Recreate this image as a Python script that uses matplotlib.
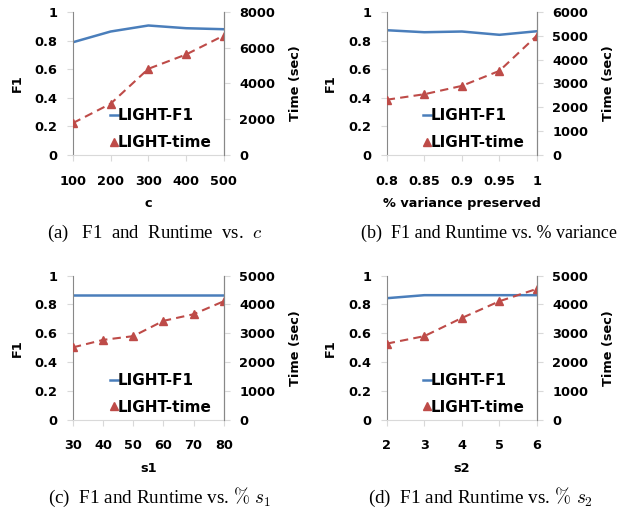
import matplotlib
matplotlib.use("Agg")
import matplotlib.pyplot as plt

plt.rcParams['font.family'] = 'DejaVu Sans'
plt.rcParams['font.weight'] = 'bold'
plt.rcParams['mathtext.fontset'] = 'cm'

# panel (a)
c_vals = [100, 200, 300, 400, 500]
c_f1 = [0.788, 0.863, 0.905, 0.886, 0.879]
c_time = [1790, 2870, 4820, 5620, 6680]

# panel (b)
var_vals = [0.8, 0.85, 0.9, 0.95, 1]
var_labels = ['0.8', '0.85', '0.9', '0.95', '1']
var_f1 = [0.872, 0.858, 0.863, 0.840, 0.865]
var_time = [2320, 2550, 2900, 3530, 5010]

# panel (c)
s1_vals = [30, 40, 50, 60, 70, 80]
s1_f1 = [0.866, 0.866, 0.866, 0.866, 0.866, 0.866]
s1_time = [2510, 2770, 2900, 3430, 3660, 4110]

# panel (d)
s2_vals = [2, 3, 4, 5, 6]
s2_f1 = [0.843, 0.864, 0.864, 0.864, 0.864]
s2_time = [2640, 2900, 3530, 4110, 4540]

blue = '#4A7EBB'
red = '#BE4B48'
fs = 9.3

fig = plt.figure(figsize=(6.34, 5.17), dpi=100)


def panel(rect, xlabels, f1, tm, tmax, tstep, xlabel, caption, cap_xy, cap_fs):
    ax = fig.add_axes(rect)
    xs = list(range(len(xlabels)))
    ax.plot(xs, f1, color=blue, lw=1.8)
    ax.set_ylim(0, 1)
    ax.set_yticks([0, 0.2, 0.4, 0.6, 0.8, 1])
    ax.set_yticklabels(['0', '0.2', '0.4', '0.6', '0.8', '1'])
    ax.set_xlim(0, len(xlabels) - 1)
    ax.set_xticks(xs)
    ax.set_xticklabels(xlabels)
    ax.spines['top'].set_visible(False)
    ax.spines['left'].set_color('#888888')
    ax.spines['right'].set_color('#888888')
    ax.spines['bottom'].set_color('#d9d9d9')
    ax.tick_params(axis='y', length=4, color='#d9d9d9', labelsize=fs, pad=7)
    ax.tick_params(axis='x', length=4, color='#d9d9d9', labelsize=fs, pad=10)
    ax.set_ylabel('F1', fontsize=fs, fontweight='bold', labelpad=8)
    ax.set_xlabel(xlabel, fontsize=fs, fontweight='bold', labelpad=7)

    ax2 = ax.twinx()
    ax2.plot(xs, tm, color=red, lw=1.5, ls=(0, (4, 2.5)), marker='^', ms=6)
    ax2.set_ylim(0, tmax)
    ax2.set_yticks(list(range(0, tmax + 1, tstep)))
    ax2.spines['top'].set_visible(False)
    ax2.spines['left'].set_visible(False)
    ax2.spines['bottom'].set_visible(False)
    ax2.spines['right'].set_color('#888888')
    ax2.tick_params(axis='y', length=4, color='#d9d9d9', labelsize=fs, pad=7)
    ax2.set_ylabel('Time (sec)', fontsize=fs, fontweight='bold', labelpad=10)

    h1 = plt.Line2D([], [], color=blue, lw=1.8)
    h2 = plt.Line2D([], [], color=red, ls='none', marker='^', ms=6)
    ax2.legend([h1, h2], ['LIGHT-F1', 'LIGHT-time'], loc='lower right',
               frameon=False, fontsize=11, handlelength=0.5,
               handletextpad=0.0, labelspacing=0.75,
               bbox_to_anchor=(1.01, -0.06))

    fig.text(cap_xy[0] / 634, 1 - cap_xy[1] / 517, caption,
             ha='center', va='center', fontsize=cap_fs, fontweight='normal',
             family='Liberation Serif')
    return ax, ax2


panel([0.115, 0.700, 0.238, 0.277], [str(v) for v in c_vals], c_f1, c_time,
      8000, 2000, 'c', '(a)   F1  and  Runtime  vs.  $c$', (155, 233), 13.5)
panel([0.610, 0.700, 0.237, 0.277], var_labels, var_f1, var_time,
      6000, 1000, '% variance preserved',
      '(b)  F1 and Runtime vs. % variance', (489, 233), 13)
panel([0.115, 0.188, 0.238, 0.279], [str(v) for v in s1_vals], s1_f1, s1_time,
      5000, 1000, 's1', '(c)  F1 and Runtime vs. $\\%\\ s_1$', (160, 497), 13.8)
panel([0.610, 0.188, 0.237, 0.279], [str(v) for v in s2_vals], s2_f1, s2_time,
      5000, 1000, 's2', '(d)  F1 and Runtime vs. $\\%\\ s_2$', (480, 497), 13.8)

fig.savefig('out.png', dpi=100)
